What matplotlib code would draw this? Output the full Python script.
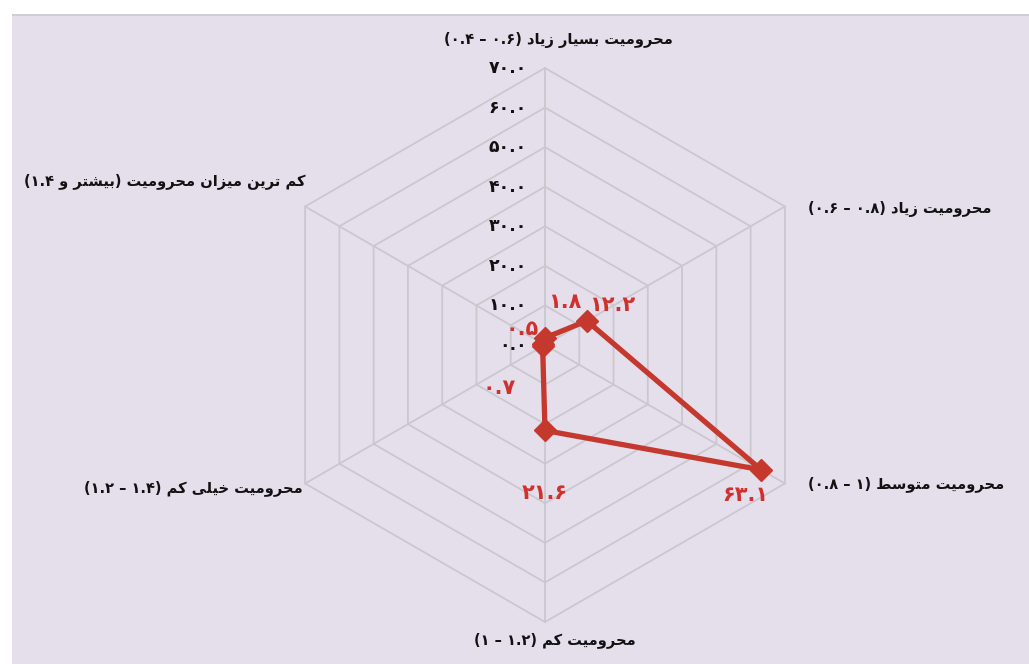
import numpy as np
import matplotlib
matplotlib.use("Agg")
import matplotlib.pyplot as plt
from matplotlib.patches import Rectangle

# axis names (Persian) and the range shown beside each one
axis_names = ["محرومیت بسیار زیاد", "محرومیت زیاد", "محرومیت متوسط",
              "محرومیت کم", "محرومیت خیلی کم", "کم ترین میزان محرومیت"]
axis_ranges = ["(۰.۴ – ۰.۶)", "(۰.۶ – ۰.۸)", "(۰.۸ – ۱)",
               "(۱ – ۱.۲)", "(۱.۲ – ۱.۴)", "(۱.۴ و بیشتر)"]
values = [1.8, 12.2, 63.1, 21.6, 0.7, 0.5]
value_labels = ["۱.۸", "۱۲.۲", "۶۳.۱", "۲۱.۶", "۰.۷", "۰.۵"]
ticks = [0, 10, 20, 30, 40, 50, 60, 70]
tick_labels = ["۰.۰", "۱۰.۰", "۲۰.۰", "۳۰.۰", "۴۰.۰", "۵۰.۰", "۶۰.۰", "۷۰.۰"]

# --- tiny arabic/persian shaper (matplotlib has no complex text layout) ---
FORMS = {  # iso, fin, ini, med
    "ا": ("\ufe8d", "\ufe8e"), "د": ("\ufea9", "\ufeaa"), "ر": ("\ufead", "\ufeae"),
    "ز": ("\ufeaf", "\ufeb0"), "و": ("\ufeed", "\ufeee"),
    "ب": ("\ufe8f", "\ufe90", "\ufe91", "\ufe92"), "پ": ("\ufb56", "\ufb57", "\ufb58", "\ufb59"),
    "ت": ("\ufe95", "\ufe96", "\ufe97", "\ufe98"), "ح": ("\ufea1", "\ufea2", "\ufea3", "\ufea4"),
    "خ": ("\ufea5", "\ufea6", "\ufea7", "\ufea8"), "س": ("\ufeb1", "\ufeb2", "\ufeb3", "\ufeb4"),
    "ش": ("\ufeb5", "\ufeb6", "\ufeb7", "\ufeb8"), "ط": ("\ufec1", "\ufec2", "\ufec3", "\ufec4"),
    "ک": ("\ufb8e", "\ufb8f", "\ufb90", "\ufb91"), "ل": ("\ufedd", "\ufede", "\ufedf", "\ufee0"),
    "م": ("\ufee1", "\ufee2", "\ufee3", "\ufee4"), "ن": ("\ufee5", "\ufee6", "\ufee7", "\ufee8"),
    "ی": ("\ufbfc", "\ufbfd", "\ufbfe", "\ufbff"),
}


def rtl(s):
    if not any(c in FORMS for c in s):
        return s
    out = []
    for i, c in enumerate(s):
        if c not in FORMS:
            out.append(c)
            continue
        prev = s[i - 1] if i > 0 else ""
        nxt = s[i + 1] if i + 1 < len(s) else ""
        join_prev = prev in FORMS and len(FORMS[prev]) == 4
        join_next = len(FORMS[c]) == 4 and nxt in FORMS
        f = FORMS[c]
        if join_prev and join_next:
            out.append(f[3])
        elif join_prev:
            out.append(f[1])
        elif join_next:
            out.append(f[2])
        else:
            out.append(f[0])
    return "".join(out[::-1])


def label_text(name, rng):
    # the picture shows the bracket left to right, words shaped right to left
    parts = rng[1:-1].split(" ")
    rng = "(" + " ".join(rtl(p) for p in parts) + ")"
    return rng + " " + rtl(name)


plt.rcParams["font.family"] = ["DejaVu Sans"]

W, H = 1029, 664
fig = plt.figure(figsize=(W / 100, H / 100), dpi=100, facecolor="white")
fig.patches.append(Rectangle((12 / W, 0), 1, (H - 14) / H, transform=fig.transFigure,
                             facecolor="#e5dfeb", edgecolor="none", zorder=-10))
fig.patches.append(Rectangle((12 / W, (H - 16) / H), 1, 2 / H, transform=fig.transFigure,
                             facecolor="#d2cbd8", edgecolor="none", zorder=-10))

ax = fig.add_axes([0, 0, 1, 1])
ax.set_facecolor("none")
ppu = 277 / 70  # pixels per unit
cx, cy = 545, 345
ax.set_xlim(-cx / ppu, (W - cx) / ppu)
ax.set_ylim(-(H - cy) / ppu, cy / ppu)
ax.axis("off")

n = len(values)
angles = np.deg2rad(90 - 60 * np.arange(n))
ca, sa = np.cos(angles), np.sin(angles)

# hexagon grid and spokes
for t in ticks[1:]:
    ax.plot(np.append(t * ca, t * ca[0]), np.append(t * sa, t * sa[0]),
            color="#cbc7ce", lw=1.3, zorder=1)
for k in range(n):
    ax.plot([0, ticks[-1] * ca[k]], [0, ticks[-1] * sa[k]], color="#cbc7ce", lw=1.3, zorder=1)

for t, tl in zip(ticks, tick_labels):
    ax.text(-4.5, t, tl, ha="right", va="center", fontsize=12.5, fontweight="bold",
            color="#111111", zorder=3)

v = np.array(values)
xs, ys = v * ca, v * sa
ax.plot(np.append(xs, xs[0]), np.append(ys, ys[0]), color="#c5382e", lw=3.8,
        solid_joinstyle="round", zorder=4)
ax.plot(xs, ys, ls="none", marker="D", ms=11, color="#c5382e", zorder=5)

label_offsets = [(14, 26), (18, 11.5), (-11.5, -18), (0, -45), (-31, -30), (-15, 11)]
for x, y, lab, off in zip(xs, ys, value_labels, label_offsets):
    ax.annotate(lab, (x, y), xytext=off, textcoords="offset points", ha="center",
                va="center", fontsize=15, fontweight="bold", color="#d0312d", zorder=6)

name_pos = [(10, 20, "center"), (16.5, -1.5, "left"), (16.5, -0.7, "left"),
            (7, -13, "center"), (-2, -3.5, "right"), (0, 18, "right")]
R = ticks[-1]
for k, (name, rng) in enumerate(zip(axis_names, axis_ranges)):
    dx, dy, ha = name_pos[k]
    ax.annotate(label_text(name, rng), (R * ca[k], R * sa[k]), xytext=(dx, dy),
                textcoords="offset points", ha=ha, va="center", fontsize=10.5,
                fontweight="bold", color="#111111", zorder=6)

fig.savefig("out.png", dpi=100, facecolor="white")
